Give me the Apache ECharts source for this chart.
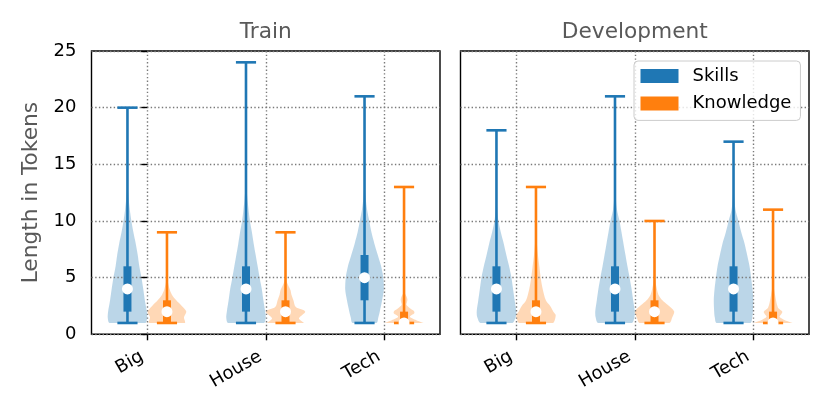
<!DOCTYPE html>
<html>
<head>
<meta charset="utf-8">
<script src="https://cdn.jsdelivr.net/npm/echarts@6/dist/echarts.min.js"></script>
<style>
html,body{margin:0;padding:0;background:#fff;}
#chart{width:830px;height:415px;}
</style>
</head>
<body>
<div id="chart"></div>
<script>
const categories = ['Big', 'House', 'Tech'];
const panelTitles = ['Train', 'Development'];
const seriesNames = ['Skills', 'Knowledge'];
const yTicks = [0, 5, 10, 15, 20, 25];

// [min, q1, median, q3, max] per category
const trainSkillsStats = [[1, 2, 4, 6, 20], [1, 2, 4, 6, 24], [1, 3, 5, 7, 21]];
const trainKnowledgeStats = [[1, 1, 2, 3, 9], [1, 1, 2, 3, 9], [1, 1, 1, 2, 13]];
const devSkillsStats = [[1, 2, 4, 6, 18], [1, 2, 4, 6, 21], [1, 2, 4, 6, 17]];
const devKnowledgeStats = [[1, 1, 2, 3, 13], [1, 1, 2, 3, 10], [1, 1, 1, 2, 11]];

// violin density profiles: [value, relative width]
const trainSkillsDensity = [
  [[1,0.9],[1.5,1.0],[2,0.98],[3,0.88],[4,0.8],[5,0.71],[6,0.6],[7,0.52],[8,0.42],[9,0.3],[10,0.2],[11,0.12],[12,0.06],[13,0.02],[14,0.005],[20,0]],
  [[1,0.9],[1.5,1.0],[2,0.97],[3,0.88],[4,0.8],[5,0.69],[6,0.59],[7,0.49],[8,0.39],[9,0.3],[10,0.2],[11,0.13],[12,0.07],[13,0.03],[14,0.01],[16,0.004],[24,0]],
  [[1,0.6],[1.5,0.7],[2,0.77],[3,0.89],[4,0.98],[5,0.95],[6,0.84],[7,0.67],[8,0.5],[9,0.35],[10,0.24],[11,0.13],[12,0.06],[13,0.02],[14,0.008],[21,0]]
];
const trainKnowledgeDensity = [
  [[1,0.9],[1.5,0.86],[2,0.98],[2.5,0.75],[3,0.47],[3.5,0.25],[4,0.13],[4.5,0.06],[5,0.02],[6,0.005],[9,0]],
  [[1,0.92],[1.4,0.68],[2,1.0],[2.4,0.52],[3,0.4],[3.5,0.3],[3.9,0.25],[4.35,0.13],[4.8,0.04],[6,0.005],[9,0]],
  [[1,1.0],[1.25,0.62],[1.55,0.3],[1.85,0.52],[2.05,0.5],[2.3,0.3],[2.6,0.12],[2.85,0.15],[3.1,0.17],[3.35,0.12],[3.6,0.05],[4,0.02],[5,0.005],[13,0]]
];
const devSkillsDensity = [
  [[1,0.8],[1.5,0.97],[2,1.0],[3,0.92],[4,0.84],[5,0.76],[6,0.64],[7,0.5],[8,0.37],[9,0.22],[10,0.1],[11,0.04],[12,0.015],[13,0.005],[18,0]],
  [[1,0.85],[1.5,0.98],[2,1.0],[3,0.92],[4,0.84],[5,0.74],[6,0.63],[7,0.53],[8,0.43],[9,0.33],[10,0.23],[11,0.1],[12,0.04],[13,0.015],[14,0.005],[21,0]],
  [[1,0.85],[1.5,0.95],[2,0.98],[3,1.0],[4,0.96],[5,0.89],[6,0.81],[7,0.69],[8,0.56],[9,0.39],[10,0.25],[11,0.1],[12,0.04],[13,0.015],[17,0]]
];
const devKnowledgeDensity = [
  [[1,0.85],[1.25,0.95],[1.7,1.0],[2,0.88],[2.5,0.72],[3,0.5],[4,0.34],[5,0.24],[6,0.17],[7,0.1],[8,0.05],[9,0.02],[10,0.01],[13,0]],
  [[1,0.75],[1.5,0.9],[2,1.0],[2.6,0.66],[3,0.4],[3.5,0.2],[4,0.12],[4.5,0.06],[5,0.02],[6,0.005],[10,0]],
  [[1,1.0],[1.25,0.6],[1.55,0.33],[1.8,0.42],[2,0.47],[2.3,0.27],[2.6,0.2],[3,0.15],[3.5,0.1],[4,0.05],[5,0.02],[6,0.005],[11,0]]
];

const FONT = 'DejaVu Sans';
const BLUE = '#1f77b4', ORANGE = '#ff7f0e';
const BLUE_FILL = 'rgba(31,119,180,0.3)', ORANGE_FILL = 'rgba(255,127,14,0.3)';
const OFFSET = 1 / 6;       // horizontal offset of each violin from its category
const HALF = 1 / 6;         // max half-width of violin body (data units)
const CAP_HALF = 0.085;     // half-width of whisker caps (data units)
const GRID_LINE = { color: '#7a7a7a', width: 1.4, type: [1.4, 2.3] };

function makeData(stats, sign) {
  return stats.map((s, i) => [i + sign * OFFSET].concat(s));
}

function bodyRenderer(profiles, fill) {
  return function (params, api) {
    const prof = profiles[params.dataIndex];
    const cx = api.value(0);
    const c = api.coord([cx, 0])[0];
    const hw = api.size([HALF, 0])[0];
    const left = prof.map(p => [c - p[1] * hw, api.coord([cx, p[0]])[1]]);
    const right = prof.slice(0, prof.length - 1).reverse().map(p => [c + p[1] * hw, api.coord([cx, p[0]])[1]]);
    const pts = left.concat(right);
    let minX = Infinity, minY = Infinity, maxX = -Infinity, maxY = -Infinity;
    pts.forEach(p => { minX = Math.min(minX, p[0]); maxX = Math.max(maxX, p[0]); minY = Math.min(minY, p[1]); maxY = Math.max(maxY, p[1]); });
    return {
      type: 'polygon',
      shape: { points: pts, smooth: 0.3, smoothConstraint: [[minX, minY], [maxX, maxY]] },
      style: { fill: fill, stroke: null }
    };
  };
}

function whiskerRenderer(color) {
  return function (params, api) {
    const cx = api.value(0);
    const c = api.coord([cx, 0])[0];
    const yMin = api.coord([cx, api.value(1)])[1];
    const yQ1 = api.coord([cx, api.value(2)])[1];
    const yMed = api.coord([cx, api.value(3)])[1];
    const yQ3 = api.coord([cx, api.value(4)])[1];
    const yMax = api.coord([cx, api.value(5)])[1];
    const capHalf = api.size([CAP_HALF, 0])[0];
    const lw = 2.6;
    const lineStyle = { stroke: color, lineWidth: lw, lineCap: 'butt' };
    return {
      type: 'group',
      children: [
        { type: 'line', shape: { x1: c, y1: yMin, x2: c, y2: yMax }, style: lineStyle },
        { type: 'line', shape: { x1: c - capHalf, y1: yMin, x2: c + capHalf, y2: yMin }, style: lineStyle },
        { type: 'line', shape: { x1: c - capHalf, y1: yMax, x2: c + capHalf, y2: yMax }, style: lineStyle },
        { type: 'rect', shape: { x: c - 4, y: yQ3, width: 8, height: yQ1 - yQ3 }, style: { fill: color } },
        { type: 'circle', shape: { cx: c, cy: yMed, r: 5.5 }, style: { fill: '#ffffff' } }
      ]
    };
  };
}

const grids = [
  { left: 91.5, top: 51, width: 348.5, height: 283.3 },
  { left: 460.5, top: 51, width: 348.5, height: 283.3 }
];

function xAxisFor(gi) {
  return {
    type: 'value', gridIndex: gi, min: -0.47, max: 2.47, z: 2,
    axisLine: { show: false },
    axisTick: { show: true, customValues: [0, 1, 2], length: 6, lineStyle: { color: '#000', width: 1.4 } },
    axisLabel: {
      customValues: [0, 1, 2], rotate: 30, margin: 18, padding: [0, 6, 0, 0],
      formatter: v => categories[Math.round(v)],
      fontFamily: FONT, fontSize: 18, color: '#000'
    },
    splitLine: { show: true, lineStyle: GRID_LINE }
  };
}
function yAxisFor(gi) {
  const o = {
    type: 'value', gridIndex: gi, min: 0, max: 25, interval: 5, z: 2,
    axisLine: { show: false },
    axisTick: { show: gi === 0, length: 6, lineStyle: { color: '#000', width: 1.4 } },
    axisLabel: { show: gi === 0, margin: 15, fontFamily: FONT, fontSize: 18, color: '#000',
      formatter: v => (yTicks.indexOf(v) >= 0 ? String(v) : '') },
    splitLine: { show: true, lineStyle: GRID_LINE }
  };
  if (gi === 0) {
    o.name = 'Length in Tokens';
    o.nameLocation = 'middle';
    o.nameGap = 49;
    o.nameTextStyle = { fontFamily: FONT, fontSize: 21.7, color: '#595959' };
  }
  return o;
}

const panelStats = [[trainSkillsStats, trainKnowledgeStats], [devSkillsStats, devKnowledgeStats]];
const panelDensity = [[trainSkillsDensity, trainKnowledgeDensity], [devSkillsDensity, devKnowledgeDensity]];
const colors = [BLUE, ORANGE];
const fills = [BLUE_FILL, ORANGE_FILL];

const series = [];
for (let g = 0; g < 2; g++) {
  for (let s = 0; s < 2; s++) {
    const data = makeData(panelStats[g][s], s === 0 ? -1 : 1);
    series.push({
      type: 'custom', name: seriesNames[s], xAxisIndex: g, yAxisIndex: g, z: 1,
      itemStyle: { color: colors[s] },
      renderItem: bodyRenderer(panelDensity[g][s], fills[s]),
      encode: { x: 0, y: [1, 2, 3, 4, 5] }, data: data, silent: true
    });
    series.push({
      type: 'custom', name: seriesNames[s], xAxisIndex: g, yAxisIndex: g, z: 3,
      itemStyle: { color: colors[s] },
      renderItem: whiskerRenderer(colors[s]),
      encode: { x: 0, y: [1, 2, 3, 4, 5] }, data: data, silent: true
    });
  }
}

const option = {
  animation: false,
  backgroundColor: '#fff',
  grid: grids.map(g => Object.assign({ show: true, borderColor: '#000', borderWidth: 1.4, backgroundColor: 'transparent', z: 2 }, g)),
  xAxis: [xAxisFor(0), xAxisFor(1)],
  yAxis: [yAxisFor(0), yAxisFor(1)],
  legend: {
    orient: 'vertical', left: 634, top: 61,
    padding: [6, 9, 8, 6.5], itemGap: 9.4, itemWidth: 38, itemHeight: 14,
    backgroundColor: 'rgba(255,255,255,0.8)', borderColor: '#cccccc', borderWidth: 1, borderRadius: 4,
    icon: 'rect', selectedMode: false,
    textStyle: { fontFamily: FONT, fontSize: 18, color: '#000', lineHeight: 18, padding: [0, 0, 0, 9] },
    data: [
      { name: 'Skills', itemStyle: { color: BLUE } },
      { name: 'Knowledge', itemStyle: { color: ORANGE } }
    ]
  },
  graphic: panelTitles.map((t, i) => ({
    type: 'text', x: grids[i].left + grids[i].width / 2, y: 32,
    style: { text: t, fill: '#595959', font: '21.7px "DejaVu Sans"', textAlign: 'center', textVerticalAlign: 'middle' }
  })),
  series: series
};

const chart = echarts.init(document.getElementById('chart'), null, { renderer: 'canvas' });
chart.setOption(option);
</script>
</body>
</html>
